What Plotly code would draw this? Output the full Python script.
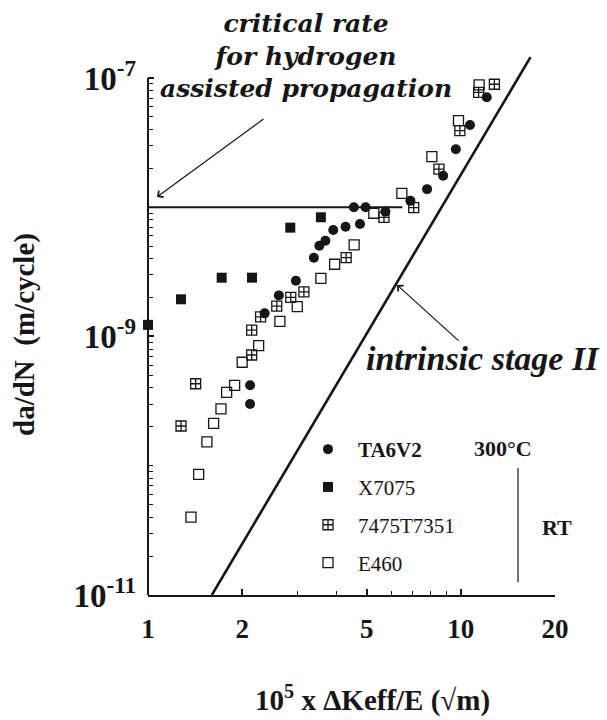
import plotly.graph_objects as go

# ---------------- data ----------------
ta6v2_x = [2.12, 2.12, 2.36, 2.62, 2.97, 3.39, 3.53, 3.69, 3.91, 4.28, 4.76,
           4.55, 4.96, 5.74, 6.90, 7.80, 8.78, 9.64, 10.7, 12.1]
ta6v2_y = [3.0e-10, 4.2e-10, 1.51e-9, 2.08e-9, 2.70e-9, 4.07e-9, 5.04e-9, 5.51e-9,
           6.67e-9, 7.07e-9, 7.42e-9, 1.0e-8, 1.0e-8, 9.25e-9, 1.12e-8, 1.38e-8,
           1.75e-8, 2.81e-8, 4.33e-8, 7.1e-8]

x7075_x = [1.0, 1.275, 1.72, 2.15, 2.85, 3.57]
x7075_y = [1.23e-9, 1.94e-9, 2.85e-9, 2.85e-9, 6.95e-9, 8.36e-9]

t7475_x = [1.275, 1.42, 2.145, 2.145, 2.29, 2.58, 2.86, 3.15, 4.30, 5.68, 7.07,
           8.51, 9.93, 11.4, 12.8]
t7475_y = [2.03e-10, 4.31e-10, 7.19e-10, 1.12e-9, 1.42e-9, 1.72e-9, 2.01e-9,
           2.21e-9, 4.07e-9, 8.36e-9, 9.92e-9, 1.97e-8, 3.91e-8, 7.75e-8, 8.94e-8]

e460_x = [1.372, 1.452, 1.543, 1.621, 1.711, 1.784, 1.892, 2.00, 2.258, 2.64,
          3.00, 3.57, 3.95, 4.56, 5.27, 6.48, 8.08, 9.83, 11.44]
e460_y = [4.01e-11, 8.59e-11, 1.53e-10, 2.13e-10, 2.75e-10, 3.70e-10, 4.19e-10,
          6.32e-10, 8.49e-10, 1.31e-9, 1.70e-9, 2.82e-9, 3.62e-9, 5.11e-9,
          8.98e-9, 1.28e-8, 2.46e-8, 4.67e-8, 8.83e-8]

critical_x = [1.0, 6.5]
critical_y = [1.0e-8, 1.0e-8]

stage2_x = [1.6, 16.7]
stage2_y = [1.0e-11, 1.45e-7]

series_names = ["<b>TA6V2</b>", "X7075", "7475T7351", "E460"]

x_major_vals = [1, 2, 5, 10, 20]
x_major_text = ["1", "2", "5", "10", "20"]
x_minor_vals = [3, 4, 6, 7, 8, 9]

y_major_vals = [1e-11, 1e-9, 1e-7]
y_major_text = ["10<sup>-11</sup>", "10<sup>-9</sup>", "10<sup>-7</sup>"]
y_decades = [-11, -10, -9, -8]

# ---------------- layout helpers ----------------
W, H = 607, 720
ML, MR, MT, MB = 148, 52, 56, 125
PW = W - ML - MR
PH = H - MT - MB


def pxx(x):
    return (x - ML) / PW


def pxy(y):
    return (H - MB - y) / PH


SERIF = "Liberation Serif, Times New Roman, serif"
INK = "#161616"

y_minor_vals = [m * 10.0 ** d for d in y_decades for m in range(1, 10)
                if not (m == 1 and d in (-11, -9))]

fig = go.Figure()

fig.add_trace(go.Scatter(x=critical_x, y=critical_y, mode="lines",
                         line=dict(color=INK, width=2), showlegend=False,
                         hoverinfo="skip"))
fig.add_trace(go.Scatter(x=stage2_x, y=stage2_y, mode="lines",
                         line=dict(color=INK, width=2.6), showlegend=False,
                         hoverinfo="skip"))

styles = [
    dict(symbol="circle", size=10, color=INK, line=dict(width=0)),
    dict(symbol="square", size=10, color=INK, line=dict(width=0)),
    dict(symbol="square-cross-open", size=10, color=INK, line=dict(width=1.3, color=INK)),
    dict(symbol="square-open", size=10, color=INK, line=dict(width=1.3, color=INK)),
]
for name, xs, ys, st in zip(series_names,
                            [ta6v2_x, x7075_x, t7475_x, e460_x],
                            [ta6v2_y, x7075_y, t7475_y, e460_y],
                            styles):
    fig.add_trace(go.Scatter(x=xs, y=ys, mode="markers", name=name,
                             legendgroup=name, marker=st, cliponaxis=False))


def label(text, x, y, size, angle=0, xanchor="center", family=SERIF):
    return dict(x=pxx(x), y=pxy(y), xref="paper", yref="paper", text=text,
                showarrow=False, xanchor=xanchor, yanchor="middle", textangle=angle,
                font=dict(family=family, size=size, color=INK))


annotations = []
annotations.append(label("<b><i>critical rate<br>for hydrogen<br>assisted propagation</i></b>",
                         306, 56, 25, family="DejaVu Serif, serif"))
annotations.append(label("<b><i>intrinsic stage II</i></b>", 364, 358, 34, xanchor="left"))
# arrows
annotations.append(dict(x=pxx(157), y=pxy(197), xref="paper", yref="paper", text="",
                        showarrow=True, ax=108, ay=-79, arrowhead=4, arrowsize=1.3,
                        arrowwidth=1.2, arrowcolor=INK))
annotations.append(dict(x=pxx(397), y=pxy(285), xref="paper", yref="paper", text="",
                        showarrow=True, ax=63, ay=57, arrowhead=4, arrowsize=1.3,
                        arrowwidth=1.2, arrowcolor=INK))
# condition labels
annotations.append(label("<b>300°C</b>", 503, 448, 22))
annotations.append(label("<b>RT</b>", 557, 527, 22))
# axis titles
annotations.append(label("<b>da/dN  (m/cycle)</b>", 24, 334, 29, angle=-90))
annotations.append(label("<b>10<sup>5</sup> x ΔKeff/E (√m)</b>", 372, 698, 29))

shapes = [
    # y axis line (only from 1e-11 up to 1e-7)
    dict(type="line", xref="paper", yref="y", x0=0, x1=0, y0=1e-11, y1=1e-7,
         line=dict(color=INK, width=2)),
    # bracket between 300°C and RT groups
    dict(type="line", xref="paper", yref="paper", x0=pxx(518), x1=pxx(518),
         y0=pxy(468), y1=pxy(582), line=dict(color=INK, width=1.2)),
]

fig.update_layout(
    width=W, height=H,
    margin=dict(l=ML, r=MR, t=MT, b=MB),
    paper_bgcolor="white", plot_bgcolor="white",
    font=dict(family=SERIF, color=INK),
    annotations=annotations, shapes=shapes,
    showlegend=True,
    legend=dict(x=pxx(298), y=pxy(429), xanchor="left", yanchor="top",
                bgcolor="rgba(0,0,0,0)", traceorder="grouped", tracegroupgap=7.5,
                font=dict(family=SERIF, size=21, color=INK), itemwidth=50),
)
fig.update_xaxes(type="log", range=[0, 1.30103], showgrid=False, zeroline=False,
                 showline=True, linecolor=INK, linewidth=2,
                 ticks="inside", ticklen=6, tickwidth=1.5, tickcolor=INK,
                 tickmode="array", tickvals=x_major_vals, ticktext=x_major_text,
                 ticklabelstandoff=9,
                 minor=dict(tickmode="array", tickvals=x_minor_vals, ticks="inside",
                            ticklen=4, tickwidth=1.3, tickcolor=INK, showgrid=False),
                 tickfont=dict(family=SERIF, size=27, color=INK, weight="bold"))
fig.update_yaxes(type="log", range=[-11, -6.83], showgrid=False, zeroline=False,
                 showline=False, ticks="inside", ticklen=6, tickwidth=1.5,
                 tickcolor=INK, tickmode="array", tickvals=y_major_vals,
                 ticktext=y_major_text, ticklabelstandoff=11,
                 minor=dict(tickmode="array", tickvals=y_minor_vals, ticks="inside",
                            ticklen=5, tickwidth=1.3, tickcolor=INK, showgrid=False),
                 tickfont=dict(family=SERIF, size=33, color=INK, weight="bold"))

fig.write_html("out.html")
